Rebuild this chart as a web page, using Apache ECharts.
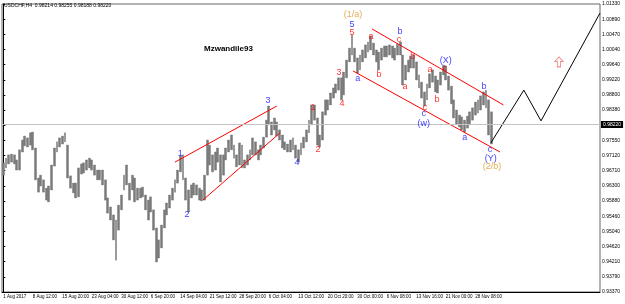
<!DOCTYPE html>
<html>
<head>
<meta charset="utf-8">
<script src="https://cdn.jsdelivr.net/npm/echarts@6/dist/echarts.min.js"></script>
<style>
  html, body { margin: 0; padding: 0; background: #fff; }
  #main { width: 625px; height: 304px; }
</style>
</head>
<body>
<div id="main"></div>
<script>
// USDCHF H4, one slot = 4 bars of H4
var slotCount = 223;

var dateLabels = ["1 Aug 2017", "8 Aug 12:00", "15 Aug 20:00", "23 Aug 04:00", "30 Aug 12:00",
  "6 Sep 20:00", "14 Sep 04:00", "21 Sep 12:00", "28 Sep 20:00", "6 Oct 04:00", "13 Oct 12:00",
  "20 Oct 20:00", "30 Oct 00:00", "6 Nov 08:00", "13 Nov 16:00", "21 Nov 00:00", "28 Nov 08:00"];

var yTickLabels = ["0.93370", "0.93790", "0.94210", "0.94620", "0.95040", "0.95460", "0.95880",
  "0.96300", "0.96710", "0.97120", "0.97550", "0.97970", "0.98380", "0.98800", "0.99220",
  "0.99640", "1.00040", "1.00470", "1.00890", "1.01330"];

var highs = [
  0.9694, 0.9707, 0.9716, 0.9718, 0.9716, 0.9702, 0.9730, 0.9757, 0.9768, 0.9763,
  0.9777, 0.9779, 0.9735, 0.9652, 0.9660, 0.9647, 0.9624, 0.9630, 0.9688, 0.9735,
  0.9752, 0.9763, 0.9768, 0.9777, 0.9743, 0.9658, 0.9638, 0.9638, 0.9680, 0.9691,
  0.9694, 0.9702, 0.9707, 0.9702, 0.9688, 0.9674, 0.9674, 0.9674, 0.9647, 0.9597,
  0.9572, 0.9550, 0.9536, 0.9577, 0.9605, 0.9660, 0.9688, 0.9638, 0.9660, 0.9652,
  0.9624, 0.9624, 0.9627, 0.9605, 0.9591, 0.9600, 0.9564, 0.9514, 0.9481, 0.9522,
  0.9564, 0.9583, 0.9605, 0.9624, 0.9647, 0.9674, 0.9713, 0.9716, 0.9652, 0.9619,
  0.9633, 0.9638, 0.9633, 0.9624, 0.9619, 0.9660, 0.9757, 0.9743, 0.9716, 0.9724,
  0.9735, 0.9716, 0.9716, 0.9735, 0.9757, 0.9771, 0.9743, 0.9716, 0.9749, 0.9743,
  0.9702, 0.9716, 0.9730, 0.9763, 0.9752, 0.9730, 0.9743, 0.9765, 0.9812, 0.9851,
  0.9807, 0.9818, 0.9807, 0.9785, 0.9771, 0.9752, 0.9746, 0.9757, 0.9763, 0.9743,
  0.9730, 0.9749, 0.9765, 0.9785, 0.9812, 0.9854, 0.9854, 0.9818, 0.9771, 0.9835,
  0.9868, 0.9868, 0.9887, 0.9901, 0.9912, 0.9929, 0.9929, 0.9945, 0.9978, 1.0011,
  1.0047, 1.0011, 0.9984, 0.9992, 1.0006, 1.0020, 1.0028, 1.0045, 1.0025, 1.0006,
  1.0000, 1.0011, 1.0017, 1.0017, 1.0020, 1.0017, 1.0011, 1.0022, 1.0028, 0.9992,
  0.9964, 0.9978, 0.9989, 0.9992, 0.9973, 0.9937, 0.9917, 0.9890, 0.9912, 0.9940,
  0.9951, 0.9934, 0.9923, 0.9945, 0.9964, 0.9962, 0.9934, 0.9906, 0.9868, 0.9840,
  0.9826, 0.9821, 0.9812, 0.9823, 0.9835, 0.9846, 0.9862, 0.9868, 0.9879, 0.9890,
  0.9895, 0.9868, 0.9835
];

var lows = [
  0.9660, 0.9680, 0.9691, 0.9696, 0.9691, 0.9674, 0.9674, 0.9724, 0.9741, 0.9738,
  0.9743, 0.9730, 0.9647, 0.9613, 0.9630, 0.9613, 0.9591, 0.9586, 0.9619, 0.9685,
  0.9724, 0.9738, 0.9746, 0.9752, 0.9652, 0.9624, 0.9611, 0.9597, 0.9600, 0.9663,
  0.9666, 0.9674, 0.9680, 0.9674, 0.9660, 0.9647, 0.9647, 0.9633, 0.9591, 0.9555,
  0.9536, 0.9481, 0.9425, 0.9508, 0.9564, 0.9619, 0.9633, 0.9591, 0.9619, 0.9586,
  0.9591, 0.9597, 0.9600, 0.9564, 0.9536, 0.9558, 0.9508, 0.9420, 0.9431, 0.9459,
  0.9514, 0.9550, 0.9569, 0.9591, 0.9613, 0.9638, 0.9669, 0.9647, 0.9591, 0.9558,
  0.9597, 0.9605, 0.9605, 0.9591, 0.9589, 0.9591, 0.9660, 0.9688, 0.9669, 0.9674,
  0.9696, 0.9641, 0.9660, 0.9702, 0.9724, 0.9730, 0.9707, 0.9683, 0.9688, 0.9680,
  0.9680, 0.9688, 0.9702, 0.9716, 0.9716, 0.9702, 0.9716, 0.9735, 0.9765, 0.9799,
  0.9771, 0.9785, 0.9768, 0.9757, 0.9735, 0.9730, 0.9724, 0.9724, 0.9730, 0.9707,
  0.9696, 0.9716, 0.9735, 0.9752, 0.9777, 0.9799, 0.9812, 0.9743, 0.9738, 0.9757,
  0.9826, 0.9840, 0.9854, 0.9873, 0.9887, 0.9895, 0.9868, 0.9882, 0.9929, 0.9973,
  0.9992, 0.9973, 0.9942, 0.9951, 0.9973, 0.9984, 1.0000, 1.0006, 0.9992, 0.9973,
  0.9951, 0.9978, 0.9987, 0.9987, 0.9992, 0.9984, 0.9978, 0.9992, 0.9992, 0.9909,
  0.9923, 0.9945, 0.9956, 0.9956, 0.9923, 0.9901, 0.9873, 0.9851, 0.9868, 0.9901,
  0.9917, 0.9890, 0.9887, 0.9909, 0.9937, 0.9923, 0.9895, 0.9857, 0.9818, 0.9801,
  0.9793, 0.9785, 0.9779, 0.9790, 0.9799, 0.9812, 0.9826, 0.9832, 0.9840, 0.9854,
  0.9846, 0.9771, 0.9746
];

var lastPrice = 0.9822;

// wave counts: [text, slot, price]
var blueLabels = [
  ["1", 66, 0.9721], ["2", 68.5, 0.9550], ["3", 98.7, 0.9865], ["4", 109.5, 0.9694],
  ["5", 130, 1.0075], ["a", 132.2, 0.9926], ["b", 147.9, 1.0056], ["c", 156.8, 0.9829],
  ["(w)", 156.8, 0.9804], ["(X)", 165.0, 0.9976], ["a", 172.1, 0.9765], ["b", 179.2, 0.9904],
  ["c", 181.5, 0.9730], ["(Y)", 181.8, 0.9707]
];
var redLabels = [
  ["1", 115.5, 0.9848], ["2", 117.3, 0.9730], ["3", 125.2, 0.9945], ["4", 126.3, 0.9859],
  ["5", 130, 1.0053], ["a", 137.1, 1.0042], ["b", 140.1, 0.9937], ["c", 147.5, 1.0034],
  ["a", 149.8, 0.9904], ["b", 152.7, 0.9987], ["c", 157.2, 0.9848], ["a", 159.1, 0.9951],
  ["b", 161.7, 0.9870], ["c", 164.7, 0.9956]
];
var orangeLabels = [["(1/a)", 130.4, 1.0103], ["(2/b)", 182.2, 0.9683]];

var wedgeUpper = [[64.0, 0.9696], [102.0, 0.9851]];
var wedgeLower = [[74.4, 0.9591], [103.2, 0.9777]];
var channelUpper = [[137.5, 1.0064], [186.5, 0.9854]];
var channelLower = [[130.4, 0.9948], [185.2, 0.9724]];
var projection = [[181.8, 0.9749], [194.1, 0.9895], [200.5, 0.9810], [222.5, 1.0108]];
var arrowMark = [207.2, 0.9973];

var yMin = 0.9337, yMax = 1.0133, yStep = 0.0041895;

function init_chart(container) {
  var chartDom = document.getElementById(container);
  var myChart = echarts.init(chartDom);

  var slots = [];
  for (var i = 0; i < slotCount; i++) slots.push(String(i));

  var bars = highs.map(function (h, i) {
    return [lows[i], h, lows[i], h];
  });

  function textSeries(list, color) {
    return {
      type: "scatter",
      xAxisIndex: 1,
      symbolSize: 0,
      silent: true,
      data: list.map(function (d) {
        return { name: d[0], value: [d[1], d[2]] };
      }),
      label: {
        show: true,
        position: "inside",
        formatter: "{b}",
        color: color,
        fontSize: 9,
        fontFamily: "Liberation Sans",
      },
      z: 5,
    };
  }

  function lineSeries(pts, color) {
    return {
      type: "line",
      xAxisIndex: 1,
      data: pts,
      symbol: "none",
      silent: true,
      lineStyle: { color: color, width: 1 },
      z: 4,
    };
  }

  var everyWeek = function (idx) {
    return idx % 11 === 0 && idx / 11 < dateLabels.length;
  };

  var option = {
    animation: false,
    textStyle: { fontFamily: "Liberation Sans" },
    grid: {
      left: 2,
      right: 25,
      top: 4,
      bottom: 12,
      show: true,
      borderColor: "#666",
      borderWidth: 1,
      backgroundColor: "#fff",
    },
    xAxis: [
      {
        type: "category",
        data: slots,
        boundaryGap: true,
        axisLine: { lineStyle: { color: "#000", width: 1 } },
        axisTick: {
          alignWithLabel: true,
          length: 3,
          lineStyle: { color: "#000" },
          interval: everyWeek,
        },
        axisLabel: {
          fontSize: 4.5,
          color: "#000",
          align: "left",
          margin: 2,
          interval: everyWeek,
          formatter: function (v, idx) {
            return dateLabels[idx / 11] || "";
          },
        },
        splitLine: { show: false },
      },
      {
        type: "value",
        min: -0.5,
        max: slotCount - 0.5,
        show: false,
      },
    ],
    yAxis: {
      type: "value",
      position: "right",
      min: yMin,
      max: yMax,
      interval: yStep,
      scale: true,
      axisLine: { show: true, lineStyle: { color: "#000" } },
      axisTick: { show: true, length: 2, lineStyle: { color: "#000" } },
      axisLabel: {
        fontSize: 5,
        color: "#000",
        margin: 2,
        formatter: function (v) {
          return yTickLabels[Math.round((v - yMin) / yStep)] || "";
        },
      },
      splitLine: { show: false },
    },
    series: [
      {
        type: "candlestick",
        data: bars,
        barWidth: 2.4,
        silent: true,
        itemStyle: {
          color: "#7a7a7a",
          color0: "#7a7a7a",
          borderColor: "#6a6a6a",
          borderColor0: "#6a6a6a",
          borderWidth: 0.4,
        },
        markLine: {
          silent: true,
          symbol: "none",
          lineStyle: { color: "#c4c4c4", width: 1, type: "solid" },
          label: {
            position: "end",
            formatter: "0.98220",
            backgroundColor: "#000",
            color: "#fff",
            fontSize: 5,
            padding: [1, 2],
            distance: 1,
          },
          data: [{ yAxis: lastPrice }],
        },
        z: 2,
      },
      lineSeries(wedgeUpper, "#ff0000"),
      lineSeries(wedgeLower, "#ff0000"),
      lineSeries(channelUpper, "#ff0000"),
      lineSeries(channelLower, "#ff0000"),
      lineSeries(projection, "#000"),
      {
        type: "scatter",
        xAxisIndex: 1,
        silent: true,
        symbol: "path://M5,0 L10,5 L7,5 L7,11 L3,11 L3,5 L0,5 Z",
        symbolSize: [8, 10],
        itemStyle: { color: "#fff", borderColor: "#f06a6a", borderWidth: 1 },
        data: [arrowMark],
      },
      textSeries(blueLabels, "#0a0aff"),
      textSeries(redLabels, "#ff0000"),
      textSeries(orangeLabels, "#d89a2c"),
    ],
    graphic: [
      {
        type: "text",
        left: 4,
        top: 3,
        style: {
          text: "USDCHF,H4  0.98214 0.98255 0.98188 0.98220",
          fontSize: 5,
          fill: "#000",
          fontFamily: "Liberation Sans",
        },
      },
      {
        type: "text",
        left: 204,
        top: 45,
        style: {
          text: "Mzwandile93",
          fontSize: 8,
          fontWeight: "bold",
          fill: "#000",
          fontFamily: "Liberation Sans",
        },
      },
    ],
  };

  option && myChart.setOption(option);
  window.addEventListener("resize", function () {
    myChart.resize();
  });
}

init_chart("main");
</script>
</body>
</html>
